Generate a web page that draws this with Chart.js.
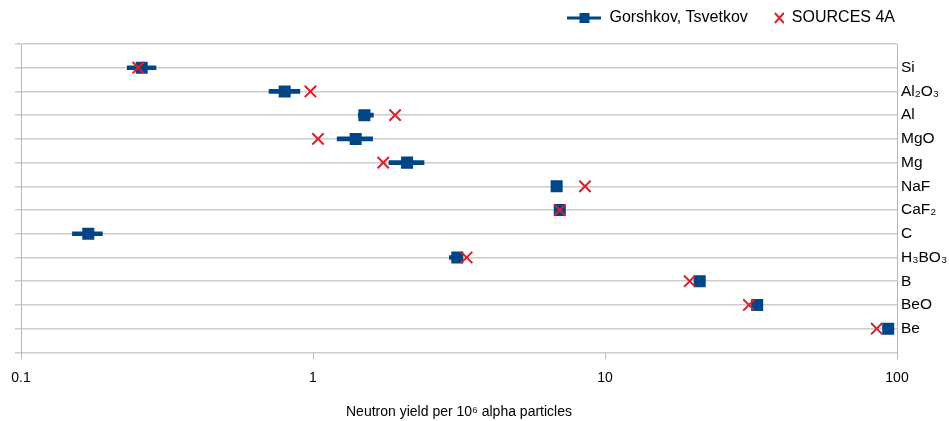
<!DOCTYPE html>
<html>
<head>
<meta charset="utf-8">
<script src="https://cdn.jsdelivr.net/npm/chart.js@4"></script>
<style>
  html, body { margin: 0; padding: 0; background: #fff; }
  #wrap { width: 949px; height: 421px; }
</style>
</head>
<body>
<div id="wrap"><canvas id="grafico"></canvas></div>
<script>
// materiales (vacío arriba y abajo para dejar el hueco de la rejilla)
var materiales = ['', 'Si', 'Al\u2082O\u2083', 'Al', 'MgO', 'Mg', 'NaF', 'CaF\u2082', 'C', 'H\u2083BO\u2083', 'B', 'BeO', 'Be', ''];

// Gorshkov, Tsvetkov
var gorshkov     = [null, 0.259, 0.80, 1.50, 1.40, 2.10, 6.83, 7.0, 0.170, 3.12, 21.1, 33.2, 93.3, null];
var gorshkovMin  = [null, 0.231, 0.707, 1.43, 1.21, 1.82, null, null, 0.150, 2.93, null, null, null, null];
var gorshkovMax  = [null, 0.290, 0.902, 1.61, 1.60, 2.40, null, null, 0.190, 3.20, null, null, null, null];

// SOURCES 4A
var sources4a    = [null, 0.252, 0.98, 1.91, 1.04, 1.74, 8.54, 7.0, null, 3.36, 19.5, 31.1, 85.2, null];

var ticksX = [0.1, 1, 10, 100];

var azul = '#004586';
var rojo = '#d9202c';
var gris = '#cccccc';
var fuente = "'Liberation Sans', Arial, sans-serif";

// barras de error como barras flotantes
var barrasError = gorshkovMin.map(function (lo, i) {
    if (lo === null) return null;
    return [lo, gorshkovMax[i]];
});

// iconos de la leyenda
function iconoLinea() {
    var c = document.createElement('canvas');
    c.width = 34; c.height = 14;
    var g = c.getContext('2d');
    g.strokeStyle = azul; g.lineWidth = 3;
    g.beginPath(); g.moveTo(0, 7); g.lineTo(34, 7); g.stroke();
    g.fillStyle = azul; g.fillRect(12, 2, 10, 10);
    return c;
}
function iconoCruz() {
    var c = document.createElement('canvas');
    c.width = 34; c.height = 14;
    var g = c.getContext('2d');
    g.strokeStyle = rojo; g.lineWidth = 2;
    g.beginPath();
    g.moveTo(25, 2); g.lineTo(34, 12);
    g.moveTo(34, 2); g.lineTo(25, 12);
    g.stroke();
    return c;
}
var iconos = [iconoLinea(), iconoCruz()];

// hueco extra bajo la leyenda y leyenda alineada con el borde derecho del gráfico
var ajusteLeyenda = {
    id: 'ajusteLeyenda',
    beforeInit: function (chart) {
        var fitOriginal = chart.legend.fit;
        chart.legend.fit = function () {
            fitOriginal.call(this);
            this.height += 8;
        };
    },
    beforeDraw: function (chart) {
        chart.legend.right = chart.chartArea.right;
    }
};

var marco = document.getElementById('grafico').getContext('2d');

var grafico = new Chart(marco, {
    type: 'bar',
    data: {
        labels: materiales,
        datasets: [
            {
                label: 'error',
                data: barrasError,
                backgroundColor: azul,
                barThickness: 4,
                order: 3
            },
            {
                type: 'line',
                label: 'Gorshkov, Tsvetkov',
                data: gorshkov,
                showLine: false,
                pointStyle: 'rect',
                pointRadius: 8.5,
                pointHoverRadius: 8.5,
                backgroundColor: azul,
                borderColor: azul,
                borderWidth: 0,
                order: 2
            },
            {
                type: 'line',
                label: 'SOURCES 4A',
                data: sources4a,
                showLine: false,
                pointStyle: 'crossRot',
                pointRadius: 8,
                pointHoverRadius: 8,
                borderColor: rojo,
                backgroundColor: rojo,
                borderWidth: 2,
                order: 1
            }
        ]
    },
    plugins: [ajusteLeyenda],
    options: {
        indexAxis: 'y',
        responsive: true,
        maintainAspectRatio: false,
        animation: false,
        layout: { padding: { left: 15, right: 0, top: 8, bottom: 0 } },
        plugins: {
            tooltip: { enabled: false },
            legend: {
                position: 'top',
                align: 'end',
                labels: {
                    font: { family: fuente, size: 16 },
                    color: '#000',
                    usePointStyle: true,
                    pointStyleWidth: 34,
                    padding: 2,
                    filter: function (item) { return item.datasetIndex > 0; },
                    sort: function (a, b) { return a.datasetIndex - b.datasetIndex; },
                    generateLabels: function (chart) {
                        var items = Chart.defaults.plugins.legend.labels.generateLabels(chart);
                        items.forEach(function (it) {
                            if (it.datasetIndex > 0) it.pointStyle = iconos[it.datasetIndex - 1];
                        });
                        return items;
                    }
                }
            }
        },
        scales: {
            x: {
                type: 'logarithmic',
                position: 'bottom',
                min: 0.1,
                max: 100,
                afterBuildTicks: function (scale) {
                    scale.ticks = ticksX.map(function (v) { return { value: v }; });
                },
                grid: {
                    drawOnChartArea: false,
                    drawTicks: true,
                    tickLength: 7,
                    color: '#b8b8b8'
                },
                border: { display: true, color: gris },
                ticks: {
                    font: { family: fuente, size: 14 },
                    color: '#000',
                    padding: 10,
                    maxRotation: 0,
                    callback: function (v) { return String(v); }
                },
                title: {
                    display: true,
                    text: 'Neutron yield per 10\u2076 alpha particles',
                    font: { family: fuente, size: 14 },
                    color: '#000',
                    padding: { top: 8, bottom: 0 }
                }
            },
            y: {
                type: 'category',
                position: 'left',
                offset: false,
                grid: {
                    offset: false,
                    color: gris,
                    lineWidth: 1.5,
                    tickLength: 6
                },
                border: { display: true, color: '#b8b8b8' },
                ticks: { display: false }
            },
            y2: {
                type: 'category',
                position: 'right',
                offset: false,
                afterFit: function (scale) { scale.width = 52; },
                grid: { display: false, drawTicks: false, offset: false },
                border: { display: true, color: '#b8b8b8' },
                ticks: {
                    font: { family: fuente, size: 15.5 },
                    color: '#000',
                    padding: 4,
                    autoSkip: false
                }
            }
        }
    }
});
</script>
</body>
</html>
